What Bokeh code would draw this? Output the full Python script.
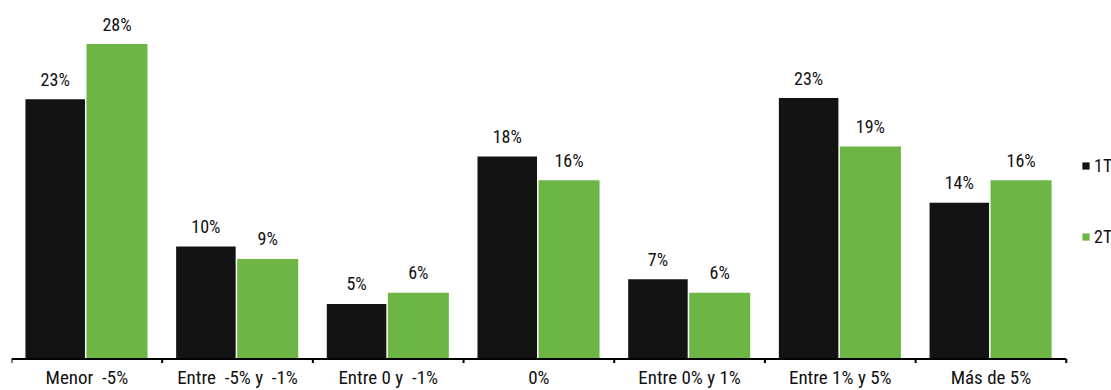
from bokeh.plotting import figure
from bokeh.models import ColumnDataSource, Range1d, Legend, LegendItem
from bokeh.embed import file_html
from bokeh.resources import INLINE
from bokeh.core.properties import value

categories = ["Menor\u00a0 -5%", "Entre\u00a0 -5% y\u00a0 -1%", "Entre 0 y\u00a0 -1%", "0%",
              "Entre 0% y 1%", "Entre 1% y 5%", "Más de 5%"]
series_names = ["1T", "2T"]
vals_1t = [23.1, 10.0, 4.9, 18.0, 7.1, 23.2, 13.9]
vals_2t = [28.0, 8.9, 5.9, 15.9, 5.9, 18.9, 15.9]
labels_1t = ["23%", "10%", "5%", "18%", "7%", "23%", "14%"]
labels_2t = ["28%", "9%", "6%", "16%", "6%", "19%", "16%"]

FONT = "Roboto Condensed"
BLACK = "#131313"
GREEN = "#6db645"

n = len(categories)
idx = list(range(n))
src1 = ColumnDataSource(dict(x=[i + 0.29 for i in idx], top=vals_1t, lab=labels_1t))
src2 = ColumnDataSource(dict(x=[i + 0.70 for i in idx], top=vals_2t, lab=labels_2t))
src_cat = ColumnDataSource(dict(x=[i + 0.5 for i in idx], y=[0] * n, lab=categories))

p = figure(width=1111, height=390, output_backend="svg", toolbar_location=None,
           x_range=Range1d(0, 7.3), y_range=Range1d(-2.8, 31.87),
           min_border_left=11, min_border_right=0, min_border_top=0, min_border_bottom=0)
p.outline_line_color = None
p.xgrid.visible = False
p.ygrid.visible = False
p.xaxis.visible = False
p.yaxis.visible = False

r1 = p.vbar(x="x", top="top", bottom=0, width=0.395, source=src1, fill_color=BLACK, line_color=None)
r2 = p.vbar(x="x", top="top", bottom=0, width=0.405, source=src2, fill_color=GREEN, line_color=None)

for s in (src1, src2):
    p.text(x="x", y="top", text="lab", source=s, text_align="center", text_baseline="alphabetic",
           y_offset=-20, text_font=value(FONT), text_font_size="18px", text_color="#111111")

# category axis: baseline, boundary ticks and category labels
bounds = list(range(n + 1))
p.segment(x0=[0], y0=[0], x1=[n], y1=[0], line_color="#000000", line_width=2)
p.segment(x0=bounds, y0=[0] * len(bounds), x1=bounds, y1=[-0.36] * len(bounds),
          line_color="#000000", line_width=2)
p.text(x="x", y="y", text="lab", source=src_cat, text_align="center", text_baseline="alphabetic",
       y_offset=18, text_font=value(FONT), text_font_size="19px", text_color="#111111")

legend = Legend(items=[LegendItem(label=series_names[0], renderers=[r1]),
                       LegendItem(label=series_names[1], renderers=[r2])],
                location=(1070, 143), orientation="vertical", spacing=50,
                glyph_width=9, glyph_height=9, label_standoff=4, label_height=20,
                padding=0, margin=0, border_line_color=None, background_fill_alpha=0,
                label_text_font=FONT, label_text_font_size="18px", label_text_color="#111111")
p.add_layout(legend, "center")

open("out.html", "w").write(file_html(p, INLINE))
